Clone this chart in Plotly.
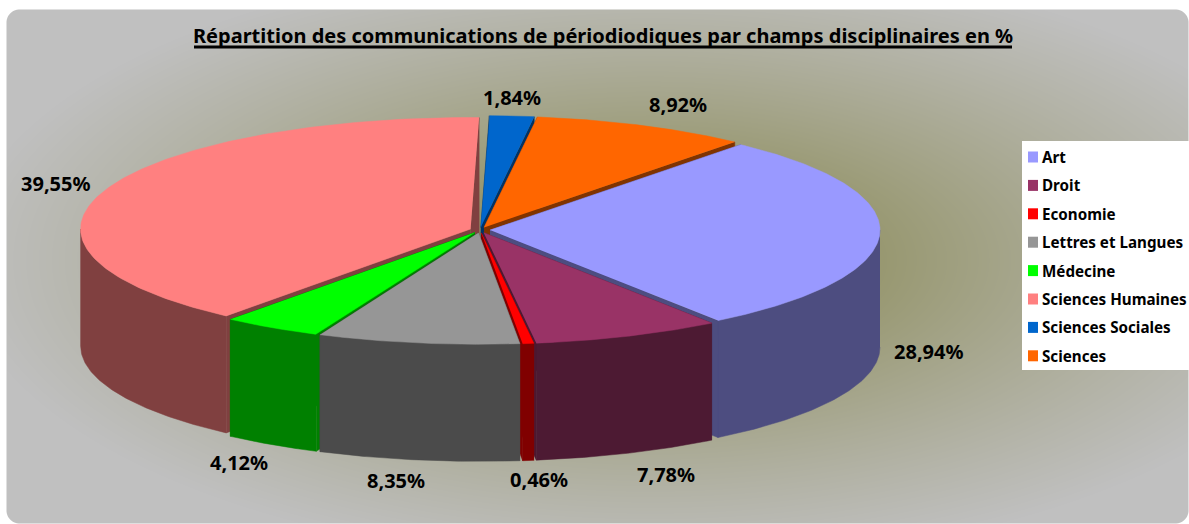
import base64, struct, zlib
import numpy as np
import plotly.graph_objects as go

# ---- data ----
categories = ["Art", "Droit", "Economie", "Lettres et Langues", "Médecine",
              "Sciences Humaines", "Sciences Sociales", "Sciences"]
values = [28.94, 7.78, 0.46, 8.35, 4.12, 39.55, 1.84, 8.92]
value_labels = ["28,94%", "7,78%", "0,46%", "8,35%", "4,12%", "39,55%", "1,84%", "8,92%"]
title_text = "Répartition des communications de périodiodiques par champs disciplinaires en %"

# ---- style and layout ----
W, H = 1189, 524
top_colors = ["#9999FF", "#993366", "#FF0000", "#969696", "#00FF00", "#FF8080", "#0066CC", "#FF6600"]
wall_colors = ["#4D4D80", "#4D1A33", "#800000", "#4B4B4B", "#008000", "#804040", "#003366", "#803300"]
CX, CY, RX, RY, DEPTH, EXPLODE = 480, 230, 390, 111.5, 117, 10
START_ANGLE = 40
label_px = [(929, 351), (666, 474), (539, 479), (396, 480), (239, 462), (56, 183), (512, 97), (678, 104)]
FONT = "Noto Sans"


def background_uri():
    yy, xx = np.mgrid[0:H, 0:W].astype(float)
    t = np.sqrt(((xx - 650) / 600) ** 2 + ((yy - 260) / 265) ** 2)
    t = (np.clip(t, 0, 1.15) / 1.15) ** 0.7
    inner, outer = np.array([118.0, 118.0, 45.0]), np.array([192.0, 192.0, 192.0])
    img = inner + (outer - inner) * t[..., None]
    # rounded panel on white
    x0, y0, x1, y1, r = 6, 9, 1188, 523, 13
    dx = np.maximum(np.maximum(x0 + r - xx, xx - (x1 - r)), 0)
    dy = np.maximum(np.maximum(y0 + r - yy, yy - (y1 - r)), 0)
    a = np.clip(r + 0.5 - np.hypot(dx, dy), 0, 1)[..., None]
    img = (img * a + 255 * (1 - a)).astype(np.uint8)
    raw = b"".join(b"\x00" + img[i].tobytes() for i in range(H))

    def chunk(tag, data):
        return struct.pack(">I", len(data)) + tag + data + struct.pack(">I", zlib.crc32(tag + data))

    png = (b"\x89PNG\r\n\x1a\n" + chunk(b"IHDR", struct.pack(">IIBBBBB", W, H, 8, 2, 0, 0, 0))
           + chunk(b"IDAT", zlib.compress(raw, 9)) + chunk(b"IEND", b""))
    return "data:image/png;base64," + base64.b64encode(png).decode()


def rim(ox, oy, deg, drop=0.0):
    a = np.radians(deg)
    return ox + RX * np.sin(a), oy - RY * np.cos(a) + drop


def face(xs, ys, color):
    return go.Scatter(x=list(xs), y=list(ys), mode="lines", fill="toself", fillcolor=color,
                      line=dict(color=color, width=0.5), hoverinfo="skip", showlegend=False)


total = sum(values)
spans = []
angle = START_ANGLE
for v in values:
    spans.append((angle, angle + v / total * 360))
    angle += v / total * 360


def front_distance(span):
    # angular distance between a slice and the point of the pie nearest the viewer
    a0, a1 = span
    if a0 <= 180 <= a1:
        return 0.0
    return min(abs(((a - 180) + 180) % 360 - 180) for a in (a0, a1))


order = sorted(range(len(values)), key=lambda i: -front_distance(spans[i]))

fig = go.Figure()
for i in order:
    a0, a1 = spans[i]
    mid = np.radians((a0 + a1) / 2)
    ox = CX + EXPLODE * np.sin(mid)
    oy = CY - EXPLODE * RY / RX * np.cos(mid)
    # straight cut walls
    for a in (a0, a1):
        tx, ty = rim(ox, oy, a)
        fig.add_trace(face([ox, tx, tx, ox], [oy, ty, ty + DEPTH, oy + DEPTH], wall_colors[i]))
    # outer curved wall, front half only
    for k in (0, 360):
        lo, hi = max(a0, 90 + k), min(a1, 270 + k)
        if hi > lo:
            deg = np.linspace(lo, hi, 80)
            tx, ty = rim(ox, oy, deg)
            fig.add_trace(face(np.r_[tx, tx[::-1]], np.r_[ty, ty[::-1] + DEPTH], wall_colors[i]))
    # top face
    deg = np.linspace(a0, a1, 160)
    tx, ty = rim(ox, oy, deg)
    fig.add_trace(face(np.r_[ox, tx], np.r_[oy, ty], top_colors[i]))

# legend panel
LEG_X, LEG_Y0, LEG_Y1 = 1022, 141, 370
fig.add_shape(type="rect", x0=LEG_X, x1=W + 5, y0=LEG_Y0, y1=LEG_Y1,
              fillcolor="white", line=dict(width=0), layer="above")
legend_y = [157 + 28.4 * k for k in range(len(categories))]
for k, name in enumerate(categories):
    fig.add_annotation(x=1040, y=legend_y[k], text=f"<b>{name}</b>", showarrow=False, xanchor="left",
                       yanchor="middle", font=dict(family=FONT, size=15.2, color="black"))
    fig.add_shape(type="rect", x0=1028, x1=1038, y0=legend_y[k] - 5.5, y1=legend_y[k] + 5.5,
                  fillcolor=top_colors[k], line=dict(width=0), layer="above")

for (x, y), text in zip(label_px, value_labels):
    fig.add_annotation(x=x, y=y, text=f"<b>{text}</b>", showarrow=False,
                       font=dict(family=FONT, size=20, color="black"))

fig.add_annotation(x=603, y=35, text=f"<b>{title_text}</b>", showarrow=False,
                   font=dict(family=FONT, size=20, color="black"))
fig.add_shape(type="line", x0=194, x1=1012, y0=47, y1=47, line=dict(color="black", width=3), layer="above")

fig.update_layout(
    width=W, height=H, margin=dict(l=0, r=0, t=0, b=0), showlegend=False,
    paper_bgcolor="white", plot_bgcolor="rgba(0,0,0,0)",
    xaxis=dict(range=[0, W], visible=False, fixedrange=True),
    yaxis=dict(range=[H, 0], visible=False, fixedrange=True),
    images=[dict(source=background_uri(), xref="paper", yref="paper", x=0, y=1, sizex=1, sizey=1,
                 xanchor="left", yanchor="top", sizing="stretch", layer="below")],
)
fig.write_html("out.html", config=dict(displayModeBar=False),
               post_script="document.body.style.margin='0';")
